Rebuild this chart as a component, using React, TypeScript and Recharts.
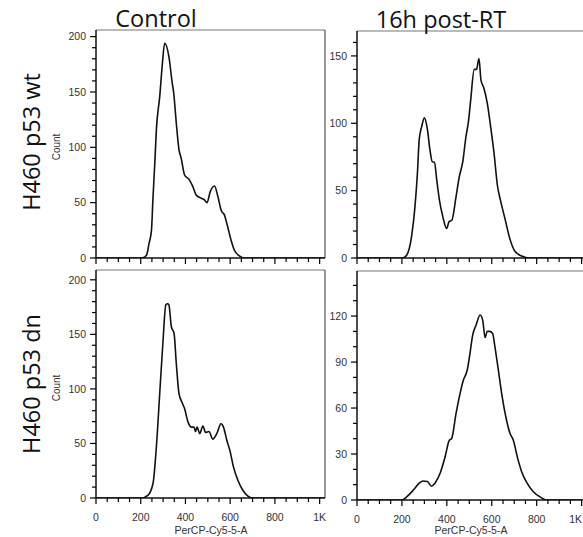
import React from "react";
import { LineChart, Line, XAxis, YAxis, ReferenceLine } from "recharts";

// fluorescence channel (PerCP-Cy5-5-A) and counts
const wtCtrlX = [0, 196, 210, 226, 237, 248, 255, 263, 270, 285, 297, 307, 326, 341, 347, 359, 371, 381, 396, 416, 433, 448, 470, 485, 496, 511, 530, 545, 560, 574, 589, 604, 619, 641, 663, 1024];
const wtCtrlCount = [0, 0, 0.3, 2.5, 13, 25, 55, 86, 116, 146, 176, 194, 182, 158, 150, 122, 98, 90, 75, 71, 64.5, 57, 54, 52.5, 50, 60, 65, 55.5, 43, 39, 28, 16, 7, 2, 0, 0];

const wtRtX = [0, 203, 221, 243, 258, 269, 277, 288, 300, 313, 325, 335, 345, 355, 367, 382, 399, 410, 422, 441, 455, 471, 485, 496, 506, 522, 532, 543, 552, 565, 580, 595, 610, 625, 640, 659, 681, 703, 733, 770, 1024];
const wtRtCount = [0, 0, 2, 16, 38, 63, 88, 97.5, 104, 96, 80, 71.5, 71, 58, 43, 30.7, 22, 27, 28, 45.5, 60, 71.5, 90, 101, 117, 140, 140, 148, 132, 126, 115, 97.5, 78, 54, 42, 29, 14, 5, 1.5, 0, 0];

const dnCtrlX = [0, 203, 233, 255, 270, 285, 300, 312, 320, 326, 337, 349, 359, 371, 386, 396, 411, 426, 438, 445, 452, 464, 478, 490, 505, 522, 540, 559, 570, 585, 600, 614, 634, 656, 678, 700, 1024];
const dnCtrlCount = [0, 0, 2.7, 13.5, 47, 96, 145, 177, 178, 177, 157, 151, 123.5, 96, 87, 82, 70, 65, 65, 61, 65, 59, 66, 60, 61, 54, 59, 68, 65, 53, 42.5, 29, 16.5, 7.3, 2, 0, 0];

const dnRtX = [0, 199, 221, 251, 277, 295, 313, 332, 347, 370, 392, 411, 421, 441, 459, 473, 491, 503, 515, 530, 548, 560, 570, 580, 590, 604, 614, 629, 644, 663, 681, 696, 714, 733, 756, 785, 815, 845, 1024];
const dnRtCount = [0, 0, 2, 6.5, 11, 12.4, 12, 9, 11, 17.4, 28, 39, 40, 56.5, 69.6, 78, 85, 95.7, 107.6, 114, 120.7, 117, 106, 110, 110, 108.7, 100, 85, 69.6, 54, 43.5, 39, 28, 18.5, 11.3, 5.4, 2, 0, 0];

const xMajorTicks = [0, 200, 400, 600, 800, 1000];
const xTickLabels = ["0", "200", "400", "600", "800", "1K"];
const xMinorStep = 50;

const colTitles = ["Control", "16h post-RT"];
const rowTitles = ["H460 p53 wt", "H460 p53 dn"];
const xTitle = "PerCP-Cy5-5-A";
const yTitle = "Count";

const PAGE_W = 583;
const tickFont = "'Liberation Sans', Arial, sans-serif";
const bigFont = "'Open Sans', 'Noto Sans', sans-serif";

function range(step: number, max: number) {
  const out: number[] = [];
  for (let v = 0; v <= max + 1e-6; v += step) out.push(v);
  return out;
}

const xAllTicks = range(xMinorStep, 1000);

function YTick(props: any) {
  const { x, y, payload, major } = props;
  const isMajor = payload.value % major === 0;
  return (
    <g>
      <line x1={x - (isMajor ? 6 : 4)} x2={x} y1={y} y2={y} stroke="#000" strokeWidth={1.2} />
      {isMajor && (
        <text x={x - 10} y={y} dy={3.8} textAnchor="end" fontSize={10.5} fontFamily={tickFont} fill="#333">
          {payload.value}
        </text>
      )}
    </g>
  );
}

function XTick(props: any) {
  const { x, y, payload, showLabel, maxX } = props;
  const idx = xMajorTicks.indexOf(payload.value);
  const isMajor = idx >= 0;
  // keep the last label inside the page when the axis runs past the edge
  const atEdge = x + 7 > maxX;
  return (
    <g>
      <line x1={x} x2={x} y1={y} y2={y + (isMajor ? 6 : 4)} stroke="#000" strokeWidth={1.2} />
      {showLabel && isMajor && (
        <text
          x={atEdge ? maxX : x}
          y={y + 23}
          textAnchor={atEdge ? "end" : "middle"}
          fontSize={10.5}
          fontFamily={tickFont}
          fill="#333"
        >
          {xTickLabels[idx]}
        </text>
      )}
    </g>
  );
}

interface PanelProps {
  xs: number[];
  counts: number[];
  yMax: number;
  yMajor: number;
  left: number;
  top: number;
  width: number;
  height: number;
  margin: { top: number; right: number; left: number; bottom: number };
  xAxisHeight: number;
  showXLabels: boolean;
  rightBorder: boolean;
}

function Histogram(p: PanelProps) {
  const data = p.xs.map((x, i) => ({ x, y: p.counts[i] }));
  const maxX = PAGE_W - p.left - 1;
  return (
    <div style={{ position: "absolute", left: p.left, top: p.top }}>
      <LineChart width={p.width} height={p.height} data={data} margin={p.margin}>
        <XAxis
          type="number"
          dataKey="x"
          domain={[0, 1024]}
          ticks={xAllTicks}
          interval={0}
          height={p.xAxisHeight}
          tickSize={0}
          tickMargin={0}
          tickLine={false}
          axisLine={{ stroke: "#111", strokeWidth: 1.5 }}
          tick={(t: any) => <XTick {...t} showLabel={p.showXLabels} maxX={maxX} />}
          allowDataOverflow
        />
        <YAxis
          type="number"
          domain={[0, p.yMax]}
          ticks={range(10, p.yMax)}
          interval={0}
          width={40}
          tickSize={0}
          tickMargin={0}
          tickLine={false}
          axisLine={{ stroke: "#111", strokeWidth: 1.5 }}
          tick={(t: any) => <YTick {...t} major={p.yMajor} />}
          allowDataOverflow
        />
        <ReferenceLine y={p.yMax} stroke="#777" strokeWidth={1} />
        {p.rightBorder && <ReferenceLine x={1024} stroke="#333" strokeWidth={1} />}
        <Line
          type="monotone"
          dataKey="y"
          stroke="#111"
          strokeWidth={1.6}
          dot={false}
          activeDot={false}
          isAnimationActive={false}
        />
      </LineChart>
    </div>
  );
}

export default function App() {
  return (
    <div
      style={{
        position: "absolute",
        left: 0,
        top: 0,
        width: PAGE_W,
        height: 537,
        overflow: "hidden",
        background: "#fff",
      }}
    >
      <Histogram
        xs={wtCtrlX}
        counts={wtCtrlCount}
        yMax={206}
        yMajor={50}
        left={0}
        top={0}
        width={340}
        height={268}
        margin={{ top: 30, right: 15, left: 56, bottom: 0 }}
        xAxisHeight={10}
        showXLabels={false}
        rightBorder
      />
      <Histogram
        xs={wtRtX}
        counts={wtRtCount}
        yMax={168.5}
        yMajor={50}
        left={301}
        top={0}
        width={300}
        height={268}
        margin={{ top: 31, right: 14, left: 16, bottom: 0 }}
        xAxisHeight={10}
        showXLabels={false}
        rightBorder={false}
      />
      <Histogram
        xs={dnCtrlX}
        counts={dnCtrlCount}
        yMax={209}
        yMajor={50}
        left={0}
        top={260}
        width={340}
        height={277}
        margin={{ top: 10, right: 15, left: 56, bottom: 0 }}
        xAxisHeight={39}
        showXLabels
        rightBorder
      />
      <Histogram
        xs={dnRtX}
        counts={dnRtCount}
        yMax={149.4}
        yMajor={30}
        left={301}
        top={260}
        width={300}
        height={277}
        margin={{ top: 11, right: 14, left: 16, bottom: 0 }}
        xAxisHeight={37}
        showXLabels
        rightBorder={false}
      />
      <svg
        width={PAGE_W}
        height={537}
        style={{ position: "absolute", left: 0, top: 0, pointerEvents: "none" }}
      >
        <text x={156} y={27} textAnchor="middle" fontSize={23.5} fontFamily={bigFont} fill="#111">
          {colTitles[0]}
        </text>
        <text x={441} y={28} textAnchor="middle" fontSize={23.5} fontFamily={bigFont} fill="#111">
          {colTitles[1]}
        </text>
        <text transform="translate(40,142) rotate(-90)" textAnchor="middle" fontSize={23.5} fontFamily={bigFont} fill="#111">
          {rowTitles[0]}
        </text>
        <text transform="translate(40,384) rotate(-90)" textAnchor="middle" fontSize={23.5} fontFamily={bigFont} fill="#111">
          {rowTitles[1]}
        </text>
        <text transform="translate(60,147) rotate(-90)" textAnchor="middle" fontSize={10} fontFamily={tickFont} fill="#333">
          {yTitle}
        </text>
        <text transform="translate(60,388) rotate(-90)" textAnchor="middle" fontSize={10} fontFamily={tickFont} fill="#333">
          {yTitle}
        </text>
        <text x={211} y={534} textAnchor="middle" fontSize={10.5} fontFamily={tickFont} fill="#333">
          {xTitle}
        </text>
        <text x={471} y={534} textAnchor="middle" fontSize={10.5} fontFamily={tickFont} fill="#333">
          {xTitle}
        </text>
      </svg>
    </div>
  );
}
